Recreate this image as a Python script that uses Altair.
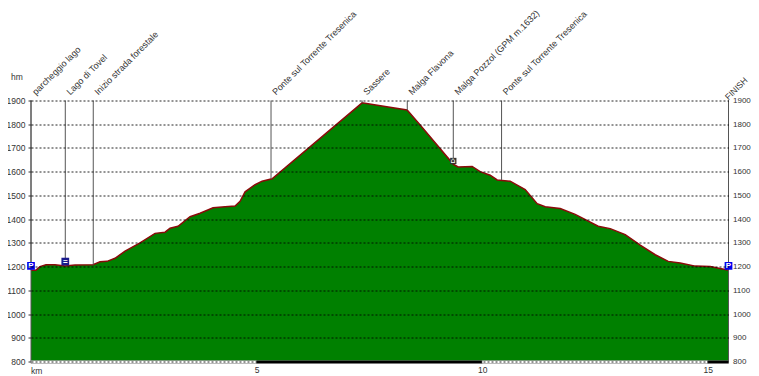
import altair as alt
import pandas as pd

KM_PER_PX = 1 / 45.1
profile_px = [31,36,40,46,55,65,75,93,100,107,115,125,140,155,165,170,178,190,200,213,225,235,240,245,255,262,272,362,385,407,420,453,458,472,480,490,497,510,525,537,545,560,575,598,610,625,640,655,668,680,695,710,728.5]
profile_elev = [1185,1185,1200,1208,1208,1203,1207,1208,1220,1222,1235,1265,1300,1340,1345,1362,1370,1410,1425,1448,1452,1455,1475,1515,1545,1560,1570,1890,1875,1860,1797,1632,1620,1622,1600,1585,1565,1560,1525,1465,1452,1445,1420,1370,1360,1335,1290,1250,1222,1215,1202,1200,1185]
profile_km = [(p - 31) * KM_PER_PX for p in profile_px]

way_names = ["parcheggio lago","Lago di Tovel","Inizio strada forestale","Ponte sul Torrente Tresenica","Sassere","Malga Flavona","Malga Pozzol (GPM m.1632)","Ponte sul Torrente Tresenica","FINISH"]
way_km = [0.0,0.76,1.38,5.32,7.34,8.34,9.36,10.43,15.46]
way_elev = [1185,1225,1208,1570,1890,1860,1650,1565,1185]

band_start = [0,5,10,15]
band_end = [5,10,15,15.46]
band_color = ["white","black","white","black"]

icon_km = [0.0, 0.76, 15.46]
icon_elev = [1203, 1221, 1203]
icon_fill = ["#0000ee", "#1a1a8c", "#0000ee"]
icon_text = ["P", "=", "P"]

XMAX = 15.46
FONT = "Liberation Sans"
TXT = "#333333"
FS = 8.5
Y_TICKS = list(range(800, 2000, 100))

xs = alt.Scale(domain=[0, XMAX], nice=False, zero=False)
ys = alt.Scale(domain=[800, 1900], nice=False, zero=False)

x_axis = alt.Axis(values=[5,10,15], title=None, grid=False, ticks=False, domain=False, format="d",
                  labelFont=FONT, labelFontSize=FS, labelColor=TXT, labelPadding=4)
y_axis = alt.Axis(values=Y_TICKS, title=None, orient="left", grid=True, format="d",
        gridColor="black", gridDash=[2,2], gridOpacity=0.85, gridWidth=1, zindex=1,
        domain=False, tickSize=3, tickColor="#333333",
        labelFont=FONT, labelFontSize=FS, labelColor=TXT, labelPadding=3)

X = lambda f: alt.X(f, scale=xs, axis=x_axis)
Y = lambda f: alt.Y(f, scale=ys, axis=y_axis)

prof = pd.DataFrame({"km": profile_km, "elev": profile_elev})
way = pd.DataFrame({"name": way_names, "km": way_km, "elev": way_elev, "top": [1900]*len(way_names)})
bands = pd.DataFrame({"a": band_start, "b": band_end, "c": band_color})
icons = pd.DataFrame({"km": icon_km, "elev": icon_elev, "fill": icon_fill, "t": icon_text})

area = alt.Chart(prof).mark_area(color="#008000", clip=True).encode(x=X("km:Q"), y=Y("elev:Q"))
line = alt.Chart(prof).mark_line(color="#8b0a0a", strokeWidth=1.5).encode(x=X("km:Q"), y=Y("elev:Q"))
rules = alt.Chart(way).mark_rule(color="#555555", strokeWidth=1).encode(x=X("km:Q"), y=Y("top:Q"), y2="elev:Q")
labels = alt.Chart(way.iloc[:-1]).mark_text(angle=315, align="left", baseline="middle", font=FONT, fontSize=9,
        color=TXT, dy=-3, dx=7).encode(x=X("km:Q"), y=Y("top:Q"), text="name:N")
finish = alt.Chart(way.iloc[-1:]).mark_text(angle=315, align="left", baseline="middle", font=FONT, fontSize=8.5,
        color=TXT, dy=-3, dx=0).encode(x=X("km:Q"), y=Y("top:Q"), text="name:N")
edges = alt.Chart(pd.DataFrame({"km":[0,XMAX]})).mark_rule(color="#555555").encode(x=X("km:Q"))
strip = alt.Chart(bands).mark_rect(stroke="#777777", strokeWidth=0.5, height=3).encode(
    x=X("a:Q"), x2="b:Q", y=alt.value(261.5), color=alt.Color("c:N", scale=None, legend=None))
km_text = alt.Chart(pd.DataFrame({"km":[0],"e":[800],"t":["km"]})).mark_text(align="left", font=FONT,
        fontSize=FS, color=TXT, dy=9, dx=0).encode(x=X("km:Q"), y=Y("e:Q"), text="t:N")
hm_text = alt.Chart(pd.DataFrame({"km":[0],"e":[1900],"t":["hm"]})).mark_text(align="left", font=FONT,
        fontSize=FS, color=TXT, dy=-24, dx=-20).encode(x=X("km:Q"), y=Y("e:Q"), text="t:N")
icon_sq = alt.Chart(icons).mark_square(size=60, opacity=1).encode(
    x=X("km:Q"), y=Y("elev:Q"), color=alt.Color("fill:N", scale=None, legend=None))
icon_tx = alt.Chart(icons).mark_text(font=FONT, fontSize=8, fontWeight="bold", color="white", baseline="middle").encode(
    x=X("km:Q"), y=Y("elev:Q"), text="t:N")
house_df = pd.DataFrame({"km":[9.36],"elev":[1645],"t":["⌂"]})
house = alt.Chart(house_df).mark_square(size=40, color="#333333", opacity=1).encode(
    x=X("km:Q"), y=Y("elev:Q"))
house_tx = alt.Chart(house_df).mark_text(font="DejaVu Sans", fontSize=8, color="white", baseline="middle").encode(
    x=X("km:Q"), y=Y("elev:Q"), text="t:N")

right = alt.Chart(prof).mark_line(opacity=0).encode(
    x=X("km:Q"),
    y=alt.Y("elev:Q", scale=ys, axis=alt.Axis(values=Y_TICKS, title=None, orient="right", grid=False, format="d",
        domain=False, ticks=False, labelFont=FONT, labelFontSize=8, labelColor=TXT, labelPadding=4)))

chart = alt.layer(
    alt.layer(area, line, rules, edges, strip, labels, finish, km_text, hm_text, icon_sq, icon_tx, house, house_tx),
    right,
).resolve_scale(y="independent").properties(
    width=697.5, height=261,
    autosize=alt.AutoSizeParams(type="none"),
    padding={"left": 23, "top": 92.5, "right": 22, "bottom": 13},
    background="white",
).configure_view(stroke=None)

chart.save("out.html", embed_options={"renderer": "svg", "actions": False})
